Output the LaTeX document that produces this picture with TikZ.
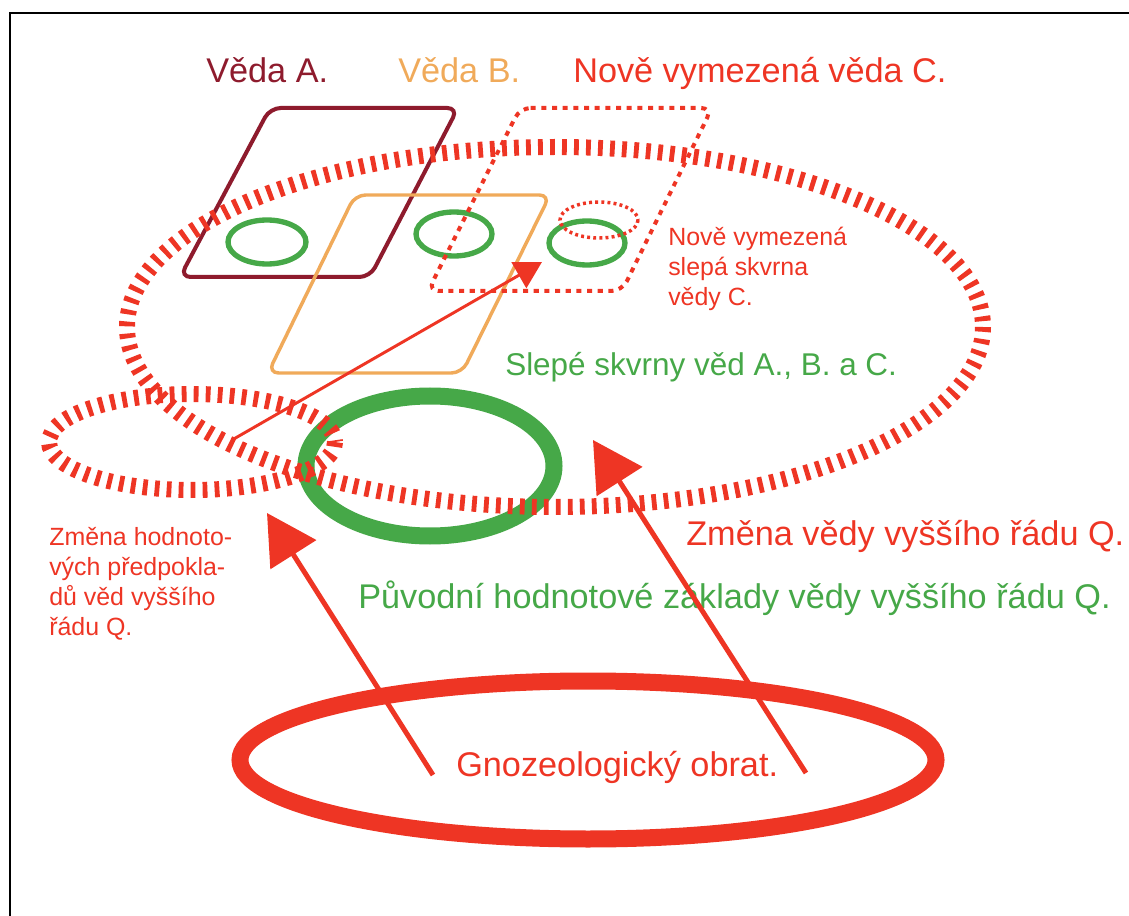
\documentclass[tikz,border=0pt]{standalone}
\usepackage{fontspec}
\setmainfont{Liberation Sans}
\usetikzlibrary{arrows.meta}
\usepackage{xcolor}
\definecolor{darkred}{RGB}{142,27,45}
\definecolor{sandorange}{RGB}{240,170,90}
\definecolor{brightred}{RGB}{238,53,36}
\definecolor{leafgreen}{RGB}{70,168,72}

\begin{document}
\begin{tikzpicture}[x=0.75pt,y=-0.75pt]
\tikzstyle{frame} = [draw=black, line width=2.2pt]
\tikzstyle{sciA} = [draw=darkred, line width=3pt, rounded corners=8pt]
\tikzstyle{sciB} = [draw=sandorange, line width=2.6pt, rounded corners=8pt]
\tikzstyle{sciC} = [draw=brightred, line width=3pt, rounded corners=8pt,
dash pattern=on 3.8pt off 4.2pt]
\tikzstyle{spot} = [draw=leafgreen, line width=4pt]
\tikzstyle{newspot} = [draw=brightred, line width=2.6pt, dash pattern=on 2.2pt off 2.4pt]
\tikzstyle{basis} = [draw=leafgreen, line width=12.75pt]
\tikzstyle{change} = [draw=brightred, line width=12pt, dash pattern=on 3.6pt off 5.4pt]
\tikzstyle{turn} = [draw=brightred, line width=12.75pt]
\tikzstyle{bigline} = [draw=brightred, line width=3.75pt,
-{Triangle[length=37pt,width=40pt]}]
\tikzstyle{thinline} = [draw=brightred, line width=2.2pt,
-{Triangle[length=20pt,width=22pt]}]
\tikzstyle{big} = [inner sep=0pt, anchor=base west, font=\fontsize{25.7}{30}\selectfont]
\tikzstyle{small} = [inner sep=0pt, anchor=north west, align=left,
font=\fontsize{18.7}{22.5}\selectfont]

\useasboundingbox (0,0) rectangle (1129,916);
\path[frame] (10,916) -- (10,13) -- (1129,13);

% sciences A. and B.
\path[sciA] (270,108) -- (458,108) -- (370,277) -- (180,277) -- cycle;
\path[sciB] (355,195) -- (550,195) -- (462,373) -- (268,373) -- cycle;

% blind spots
\path[spot] (267,242) ellipse (39 and 22);
\path[spot] (454,234) ellipse (38 and 22);
\path[spot] (587,243) ellipse (38 and 22);

% newly defined science C.
\path[sciC] (520,108) -- (712,108) -- (622,291) -- (428,291) -- cycle;
\path[newspot] (599,220) ellipse (39 and 18);

% value basis and its change
\path[basis] (430,466) ellipse (124 and 70);
\path[change] (555,327) ellipse (428 and 180);
\path[change] (192,442) ellipse (143 and 48);

% turn
\path[turn] (588,760) ellipse (348 and 79);

\node[big, text=darkred] (vedaA) at (206,83) {Věda A.};
\node[big, text=sandorange] (vedaB) at (398,83) {Věda B.};
\node[big, text=brightred] (vedaC) at (573,83) {Nově vymezená věda C.};
\node[small, text=brightred] (slepaC) at (668,227) {Nově vymezená\\slepá skvrna\\vědy C.};
\node[big, text=leafgreen, font=\fontsize{23.6}{28}\selectfont] (skvrny) at (505,376) {Slepé skvrny věd A., B. a C.};
\node[big, text=brightred] (zmenaQ) at (686,545) {Změna vědy vyššího řádu Q.};
\node[big, text=leafgreen] (puvodni) at (358,608) {Původní hodnotové základy vědy vyššího řádu Q.};
\node[small, text=brightred] (zmenaHodn) at (49,527) {Změna hodnoto-\\vých předpokla-\\dů věd vyššího\\řádu Q.};
\node[big, text=brightred] (obrat) at (456,776) {Gnozeologický obrat.};

\coordinate (fromL) at (433,775);
\coordinate (toL) at (267,513);
\coordinate (fromR) at (806,773);
\coordinate (toR) at (593,440);
\coordinate (fromSpot) at (232,440);
\coordinate (toSpot) at (542,262);

\path[bigline] (fromL) -- (toL);
\path[bigline] (fromR) -- (toR);
\path[thinline] (fromSpot) -- (toSpot);

\end{tikzpicture}
\end{document}
